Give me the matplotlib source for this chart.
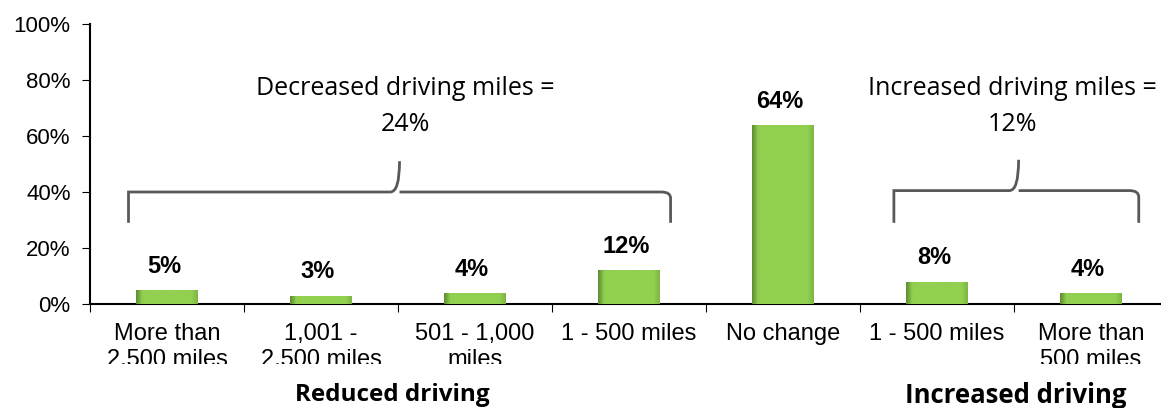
import numpy as np
import matplotlib.pyplot as plt
from matplotlib.path import Path
from matplotlib.patches import PathPatch
from matplotlib.colors import LinearSegmentedColormap
from matplotlib.transforms import Bbox, TransformedBbox

# datos
categorias = ["More than\n2,500 miles", "1,001 -\n2,500 miles", "501 - 1,000\nmiles",
              "1 - 500 miles", "No change", "1 - 500 miles", "More than\n500 miles"]
valores = [5, 3, 4, 12, 64, 8, 4]
etiquetas = ["5%", "3%", "4%", "12%", "64%", "8%", "4%"]
yticks = [0, 20, 40, 60, 80, 100]

fig = plt.figure(figsize=(11.61, 4.08), dpi=100)
ax = fig.add_axes([90 / 1161, 104 / 408, 1078 / 1161, 280 / 408])

x = np.arange(len(valores))
bars = ax.bar(x, valores, width=0.4, color="#92D050", zorder=2)

# sombreado en los bordes de cada barra
cmap = LinearSegmentedColormap.from_list(
    "g", [(0, "#5E8F2E"), (0.1, "#92D050"), (0.9, "#92D050"), (1, "#80B646")])
grad = np.linspace(0, 1, 100).reshape(1, -1)
for b in bars:
    im = ax.imshow(grad, cmap=cmap, aspect="auto", zorder=3,
                   extent=[b.get_x(), b.get_x() + b.get_width(), 0, b.get_height()])
    im.set_clip_path(b)

# etiquetas de valores
for xi, v, t in zip(x, valores, etiquetas):
    ax.annotate(t, (xi - 0.02, v), xytext=(0, 17), textcoords="offset points",
                ha="center", va="center", fontsize=17, fontweight="bold",
                family="Liberation Sans")

ax.set_xlim(-0.5, 6.5)
ax.set_ylim(0, 100)
ax.set_yticks(yticks)
ax.set_yticklabels([f"{v}%" for v in yticks], fontsize=16, family="Liberation Sans")
ax.set_xticks(np.arange(-0.5, 7, 1))
ax.set_xticklabels([])
ax.set_xticks(x, minor=True)
ax.set_xticklabels(categorias, minor=True, fontsize=17, family="Liberation Sans",
                   linespacing=1.2)
ax.tick_params(axis="x", which="minor", length=0, pad=14)
ax.tick_params(axis="x", which="major", length=6, direction="out")
ax.tick_params(axis="y", length=6, pad=8)
for s in ["top", "right"]:
    ax.spines[s].set_visible(False)
ax.spines["left"].set_linewidth(1.5)
ax.spines["bottom"].set_linewidth(1.5)

# recortar las etiquetas como en el original
clip = TransformedBbox(Bbox([[0, 44 / 408], [1, 1]]), fig.transFigure)
for lab in ax.get_xticklabels(minor=True):
    lab.set_clip_box(clip)
    lab.set_clip_on(True)


# llaves
def llave(x0, x1, xc, yh, yend, ypk):
    w = 0.06
    h = (yh - yend)
    verts = [(x0, yend), (x0, yh - 0.2 * h), (x0, yh), (x0 + w, yh),
             (xc - w, yh), (xc, yh), (xc, ypk),
             (xc, yh), (xc + w, yh),
             (x1 - w, yh), (x1, yh), (x1, yh - 0.2 * h), (x1, yend)]
    codes = [Path.MOVETO, Path.CURVE3, Path.CURVE3, Path.LINETO,
             Path.LINETO, Path.CURVE3, Path.CURVE3,
             Path.MOVETO, Path.CURVE3,
             Path.LINETO, Path.CURVE3, Path.CURVE3, Path.LINETO]
    ax.add_patch(PathPatch(Path(verts, codes), fill=False, edgecolor="#595959",
                           lw=2, clip_on=False, zorder=4))


llave(-0.25, 3.27, 1.51, 40, 29, 51)
llave(4.72, 6.31, 5.53, 40.5, 29, 51.5)

ax.text(1.55, 70.5, "Decreased driving miles =\n24%", ha="center", va="center",
        fontsize=18, family="Open Sans", linespacing=1.55)
ax.text(5.49, 70.5, "Increased driving miles =\n12%", ha="center", va="center",
        fontsize=18, family="Open Sans", linespacing=1.55, clip_on=False)

fig.text(392 / 1161, 1 - 401 / 408, "Reduced driving", ha="center", va="baseline",
         fontsize=17.5, fontweight="bold", family="Open Sans")
fig.text(1016 / 1161, 1 - 403 / 408, "Increased driving", ha="center", va="baseline",
         fontsize=18.5, fontweight="bold", family="Open Sans")

fig.savefig("out.png", dpi=100)
